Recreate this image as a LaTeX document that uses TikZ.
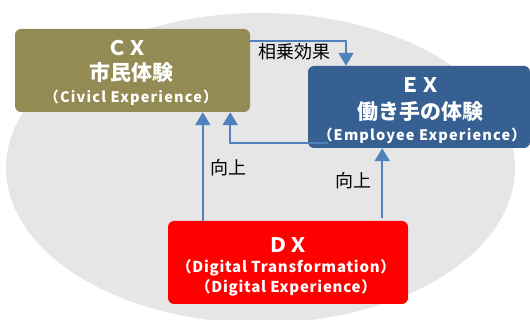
\documentclass[tikz,border=0pt]{standalone}
\usepackage{fontspec}
\setmainfont{Noto Sans CJK JP}
\usetikzlibrary{arrows.meta}
\definecolor{cxol}{HTML}{948A54}
\definecolor{exblue}{HTML}{376092}
\definecolor{dxred}{HTML}{FF0000}
\definecolor{arrowblue}{HTML}{4F81BD}
\definecolor{bggray}{HTML}{E7E6E6}
\begin{document}
\begin{tikzpicture}[x=1pt,y=-1pt,
  box/.style={rounded corners=6pt, inner sep=0pt},
  conn/.style={draw=arrowblue, line width=2pt, -{Triangle[width=15pt,length=13pt]}},
  wt/.style={text=white, anchor=base, inner sep=0pt},
  lbl/.style={text=black, anchor=base, inner sep=0pt, font=\fontsize{18}{18}\selectfont},
  sub/.style={wt, font=\fontsize{14.5}{14.5}\bfseries\selectfont\addfontfeatures{LetterSpace=8}},
  dsub/.style={wt, font=\fontsize{15}{15}\bfseries\selectfont\addfontfeatures{LetterSpace=5}}]
\useasboundingbox (0,0) rectangle (530,320);
\fill[bggray] (260.5,168) ellipse [x radius=254.5, y radius=155];
\node[box, fill=cxol, minimum width=235pt, minimum height=83pt] (CX) at (132.5,70.5) {};
\node[box, fill=exblue, minimum width=222pt, minimum height=82pt] (EX) at (419,107) {};
\node[box, fill=dxred, minimum width=240pt, minimum height=83pt] (DX) at (288,262.5) {};
% connectors
\draw[conn] ([yshift=-12pt]CX.north east) -| ([xshift=-73pt]EX.north);
\draw[conn] ([xshift=20pt,yshift=5pt]EX.south west) -| ([xshift=-20pt]CX.south east);
\draw[conn] ([xshift=35pt]DX.north west) -- ([xshift=35pt]DX.north west |- CX.south);
\draw[conn] ([xshift=-26pt,yshift=3pt]DX.north east) -- ([xshift=-26pt]DX.north east |- EX.south);
% labels
\node[lbl] (syn) at (294,59) {相乗効果};
\node[lbl] (up1) at (228,175) {向上};
\node[lbl] (up2) at (353,188) {向上};
% box texts
\node[wt, font=\fontsize{20}{20}\bfseries\selectfont] (cx1) at (127,56) {ＣＸ};
\node[wt, font=\fontsize{21}{21}\bfseries\selectfont] (cx2) at (131,81) {市民体験};
\node[sub] (cx3) at (131,103) {（Civicl Experience）};
\node[wt, font=\fontsize{20}{20}\bfseries\selectfont] (ex1) at (420,93) {ＥＸ};
\node[wt, font=\fontsize{21}{21}\bfseries\selectfont] (ex2) at (420,120) {働き手の体験};
\node[sub] (ex3) at (422,141) {（Employee Experience）};
\node[wt, font=\fontsize{20}{20}\bfseries\selectfont] (dx1) at (288,253) {ＤＸ};
\node[dsub] (dx2) at (286,273) {（Digital Transformation）};
\node[dsub] (dx3) at (286,293) {（Digital Experience）};
\end{tikzpicture}
\end{document}
